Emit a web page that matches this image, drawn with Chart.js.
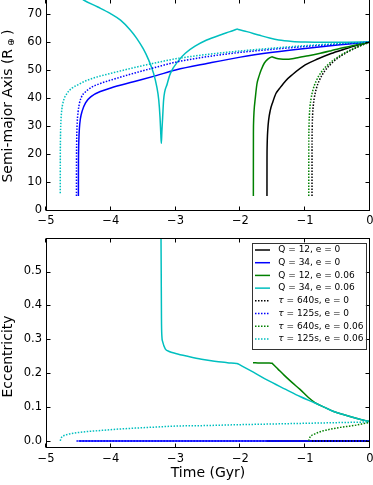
<!DOCTYPE html>
<html><head><meta charset="utf-8">
<script src="https://cdn.jsdelivr.net/npm/chart.js@4.4.0/dist/chart.umd.min.js"></script>
<style>
html,body{margin:0;padding:0;background:#fff;}
body{width:373px;height:485px;position:relative;overflow:hidden;}
canvas{position:absolute;left:0;display:block;}
#c1{top:0;}
#c2{top:235px;}
</style></head><body>
<canvas id="c1" width="373" height="235"></canvas>
<canvas id="c2" width="373" height="250"></canvas>
<script>
// ---------- tick values ----------
const xTicks = [-5, -4, -3, -2, -1, 0];
const aTicks = [0, 10, 20, 30, 40, 50, 60, 70];
const eTicks = [0, 0.1, 0.2, 0.3, 0.4, 0.5];

// ---------- legend labels ----------
const seriesLabels = ['Q = 12, e = 0', 'Q = 34, e = 0', 'Q = 12, e = 0.06', 'Q = 34, e = 0.06',
  'τ = 640s, e = 0', 'τ = 125s, e = 0', 'τ = 640s, e = 0.06', 'τ = 125s, e = 0.06'];

// ---------- semi-major axis (top panel) ----------
const tA_Q12e0 = [-1.59,-1.5895,-1.588,-1.585,-1.578,-1.565,-1.54,-1.5,-1.45,-1.4,-1.3,-1.2,-1.0,-0.8,-0.6,-0.4,-0.2,0];
const aA_Q12e0 = [5,17,22,25,28.5,32,35.5,38.6,41.7,43.3,46.2,48.3,51.8,54,55.9,57.4,58.8,60];

const tA_Q34e0 = [-4.5,-4.499,-4.497,-4.493,-4.485,-4.47,-4.44,-4.39,-4.3,-4.15,-4.0,-3.65,-3.3,-3.0,-2.5,-2.0,-1.5,-1.0,-0.5,0];
const aA_Q34e0 = [5,16,21,25,29,32.5,35.5,38.3,40.6,42.4,43.6,45.8,48,50,52.4,54.6,56.3,57.7,58.9,60];

const tA_Q12e06 = [-1.8,-1.7995,-1.799,-1.797,-1.79,-1.77,-1.745,-1.71,-1.68,-1.63,-1.57,-1.525,-1.51,-1.495,-1.45,-1.38,-1.3,-1.2,-1.1,-0.95,-0.8,-0.6,-0.48,-0.3,-0.15,0];
const aA_Q12e06 = [5,20,27,31,35,40,45,48,50,52.5,54,54.6,54.7,54.55,54.2,53.9,53.8,54,54.5,55.1,55.8,56.9,57.6,58.5,59.3,60];

const tA_Q34e06 = [-4.62,-4.42,-4.2,-4.01,-3.85,-3.7,-3.6,-3.5,-3.42,-3.34,-3.29,-3.26,-3.24,-3.228,-3.22,-3.212,-3.2,-3.185,-3.13,-3.08,-2.95,-2.85,-2.7,-2.52,-2.3,-2.16,-2.07,-2.05,-2.03,-1.9,-1.72,-1.55,-1.41,-1.2,-1.0,-0.7,-0.4,0];
const aA_Q34e06 = [78,75,72.5,70.2,67.8,64.3,61.3,57.6,53.8,48.8,44,39.3,33,27,23.8,28,33,39.3,45,48.8,53.5,56,58.5,60.7,62.6,63.7,64.45,64.6,64.45,63.7,62.5,61.4,60.7,60.2,60,59.9,59.9,60];

const tA_T640e0 = [-0.895,-0.8945,-0.893,-0.89,-0.885,-0.875,-0.86,-0.83,-0.78,-0.7,-0.6,-0.5,-0.4,-0.3,-0.2,-0.1,0];
const aA_T640e0 = [5,23.5,28,31.4,34.2,37.3,40,43.2,46.4,49.6,52.2,54.2,55.7,57,58.1,59.1,60];

const tA_T125e0 = [-4.53,-4.529,-4.527,-4.524,-4.518,-4.505,-4.485,-4.45,-4.4,-4.3,-4.16,-4.0,-3.65,-3.3,-3.0,-2.5,-2.0,-1.5,-1.0,-0.5,0];
const aA_T125e0 = [5,18,24,28,31.5,35,38,40.5,42,43.8,45.2,46.4,48.8,51,52.8,54.8,56.3,57.4,58.4,59.2,60];

const tA_T640e06 = [-0.945,-0.9445,-0.943,-0.94,-0.935,-0.925,-0.91,-0.88,-0.83,-0.75,-0.65,-0.55,-0.45,-0.35,-0.25,-0.15,-0.05,0];
const aA_T640e06 = [5,23.4,27.8,31.2,34,37.1,39.7,42.9,46.1,49.3,51.9,53.8,55.3,56.6,57.7,58.7,59.6,60];

const tA_T125e06 = [-4.78,-4.779,-4.777,-4.774,-4.768,-4.755,-4.73,-4.68,-4.6,-4.5,-4.4,-4.2,-4.0,-3.65,-3.3,-3.0,-2.5,-2.0,-1.5,-1.0,-0.5,0];
const aA_T125e06 = [6,19,25,29,32.5,36,39,41.5,43.5,44.8,46,47.6,48.8,50.8,52.6,54,55.6,56.8,57.8,58.7,59.4,60];

// ---------- eccentricity (bottom panel) ----------
const tE_Q12e0 = [-1.59, 0];
const eE_Q12e0 = [0, 0];
const tE_Q34e0 = [-4.5, 0];
const eE_Q34e0 = [0, 0];
const tE_Q12e06 = [-1.806,-1.7,-1.6,-1.525,-1.51,-1.495,-1.42,-1.33,-1.2,-1.08,-0.95,-0.85,-0.7,-0.56,-0.4,-0.2,0];
const eE_Q12e06 = [0.231,0.23,0.23,0.2293,0.229,0.226,0.212,0.195,0.172,0.152,0.128,0.113,0.099,0.087,0.077,0.066,0.057];
const tE_Q34e06 = [-3.23,-3.222,-3.218,-3.212,-3.2,-3.16,-3.1,-3.0,-2.8,-2.6,-2.4,-2.2,-2.06,-2.04,-2.02,-1.8,-1.59,-1.3,-1.08,-0.85,-0.7,-0.56,-0.4,-0.2,0];
const eE_Q34e06 = [0.75,0.5,0.36,0.31,0.293,0.272,0.264,0.258,0.249,0.241,0.235,0.231,0.2285,0.228,0.2258,0.203,0.18,0.152,0.131,0.112,0.099,0.087,0.077,0.066,0.057];
const tE_T640e0 = [-0.895, 0];
const eE_T640e0 = [0, 0];
const tE_T125e0 = [-4.53, 0];
const eE_T125e0 = [0, 0];
const tE_T640e06 = [-0.945,-0.94,-0.93,-0.91,-0.87,-0.8,-0.72,-0.6,-0.46,-0.3,-0.2,-0.1,0];
const eE_T640e06 = [0,0.005,0.01,0.015,0.019,0.025,0.03,0.035,0.04,0.044,0.047,0.051,0.055];
const tE_T125e06 = [-4.78,-4.77,-4.73,-4.65,-4.57,-4.4,-4.21,-3.95,-3.7,-3.3,-2.98,-2.62,-2.0,-1.5,-1.0,-0.5,0];
const eE_T125e06 = [0,0.007,0.015,0.02,0.023,0.027,0.03,0.034,0.037,0.041,0.044,0.045,0.048,0.05,0.052,0.054,0.056];

// ---------- styles ----------
const seriesColors = ['#000000','#0000ff','#008000','#00bfbf','#000000','#0000ff','#008000','#00bfbf'];
const FONT = "'DejaVu Sans', sans-serif";
Chart.defaults.font.family = FONT;
Chart.defaults.color = '#000';

const pts = (t, v) => t.map((x, i) => ({x: x, y: v[i]}));
function makeSets(pairs) {
  return pairs.map((p, i) => ({
    label: seriesLabels[i],
    data: pts(p[0], p[1]),
    borderColor: seriesColors[i],
    backgroundColor: seriesColors[i],
    borderWidth: 1.5,
    borderDash: i >= 4 ? [1.5, 1.5] : [],
    borderCapStyle: 'butt',
    pointRadius: 0,
    fill: false,
    cubicInterpolationMode: 'monotone',
    order: pairs.length - i
  }));
}
const fmtX = v => (v < 0 ? '\u2212' + Math.abs(v) : String(v));

const framePlugin = {
  id: 'frame',
  afterDatasetsDraw(chart) {
    const {ctx, chartArea: a, scales: {x, y}} = chart;
    const L = Math.floor(a.left) + 0.5;
    const R = Math.ceil(a.right) - 0.5;
    const B = Math.floor(a.bottom) + 0.5;
    const T = a.top < 1 ? -0.5 : Math.floor(a.top) + 0.5;
    ctx.save();
    ctx.strokeStyle = '#000';
    ctx.lineWidth = 1;
    ctx.strokeRect(L, T, R - L, B - T);
    ctx.beginPath();
    const K = 4;
    x.ticks.forEach(t => {
      const px = Math.round(x.getPixelForValue(t.value)) - 0.5;
      ctx.moveTo(px, B); ctx.lineTo(px, B - K);
      ctx.moveTo(px, T); ctx.lineTo(px, T + K);
    });
    y.ticks.forEach(t => {
      const py = Math.round(y.getPixelForValue(t.value)) + 0.5;
      ctx.moveTo(L, py); ctx.lineTo(L + K, py);
      ctx.moveTo(R, py); ctx.lineTo(R - K, py);
    });
    ctx.stroke();
    ctx.restore();
  }
};

function yTitlePlugin(parts, cx, cy) {
  return {
    id: 'ytitle',
    afterDraw(chart) {
      const ctx = chart.ctx;
      ctx.save();
      ctx.fillStyle = '#000';
      ctx.textBaseline = 'middle';
      ctx.textAlign = 'left';
      let total = 0;
      parts.forEach(p => { ctx.font = p.size + 'px ' + FONT; total += ctx.measureText(p.text).width; });
      ctx.translate(cx, cy);
      ctx.rotate(-Math.PI / 2);
      let xx = -total / 2;
      parts.forEach(p => {
        ctx.font = p.size + 'px ' + FONT;
        ctx.fillText(p.text, xx, p.dy || 0);
        xx += ctx.measureText(p.text).width;
      });
      ctx.restore();
    }
  };
}

const legendPlugin = {
  id: 'boxLegend',
  afterDraw(chart) {
    const {ctx, chartArea: a} = chart;
    const w = 114, h = 105.6;
    const x0 = a.right - 4.3 - w, y0 = a.top + 4.4;
    ctx.save();
    ctx.fillStyle = '#fff';
    ctx.fillRect(x0, y0, w, h);
    ctx.strokeStyle = '#333';
    ctx.lineWidth = 1;
    ctx.strokeRect(Math.round(x0) + 0.5, Math.round(y0) + 0.5, Math.round(w), Math.round(h));
    chart.data.datasets.forEach((ds, i) => {
      const yy = y0 + 7.3 + i * 12.71;
      ctx.beginPath();
      ctx.strokeStyle = ds.borderColor;
      ctx.lineWidth = ds.borderWidth;
      ctx.setLineDash(ds.borderDash || []);
      ctx.moveTo(x0 + 3.3, yy);
      ctx.lineTo(x0 + 18.3, yy);
      ctx.stroke();
      ctx.setLineDash([]);
      ctx.fillStyle = '#000';
      ctx.textBaseline = 'middle';
      ctx.textAlign = 'left';
      let tx = x0 + 26.6;
      let label = ds.label;
      if (label.charAt(0) === 'τ') {
        ctx.font = 'italic 9px ' + FONT;
        ctx.fillText('τ', tx, yy);
        tx += ctx.measureText('τ').width;
        label = label.slice(1);
      }
      ctx.font = '9px ' + FONT;
      ctx.fillText(label, tx, yy);
    });
    ctx.restore();
  }
};

function makeOptions(cfg) {
  return {
    responsive: false,
    animation: false,
    devicePixelRatio: 1,
    layout: {padding: {left: 0, right: 3, top: cfg.padTop, bottom: 0}},
    plugins: {legend: {display: false}, tooltip: {enabled: false}},
    scales: {
      x: {
        type: 'linear', min: -5, max: 0,
        grid: {display: false, drawTicks: false},
        border: {display: false},
        afterBuildTicks: s => { s.ticks = xTicks.map(v => ({value: v})); },
        afterFit: s => { s.height = cfg.xHeight; s.paddingLeft = 0; s.paddingRight = 0; },
        ticks: {padding: 4, color: '#000', font: {size: 11.5}, autoSkip: false, maxRotation: 0,
                callback: v => fmtX(v)},
        title: cfg.xTitle ? {display: true, text: 'Time (Gyr)', color: '#000', font: {size: 14},
                              padding: {top: 0, bottom: 3.6}} : {display: false}
      },
      y: {
        type: 'linear', min: cfg.yMin, max: cfg.yMax,
        grid: {display: false, drawTicks: false},
        border: {display: false},
        afterBuildTicks: s => { s.ticks = cfg.yTicks.map(v => ({value: v})); },
        afterFit: s => { s.width = 46; s.paddingTop = 0; s.paddingBottom = 0; },
        ticks: {padding: 4, color: '#000', font: {size: 11.5}, autoSkip: false,
                callback: cfg.yFmt}
      }
    }
  };
}

new Chart(document.getElementById('c1'), {
  type: 'line',
  data: {datasets: makeSets([
    [tA_Q12e0, aA_Q12e0], [tA_Q34e0, aA_Q34e0], [tA_Q12e06, aA_Q12e06], [tA_Q34e06, aA_Q34e06],
    [tA_T640e0, aA_T640e0], [tA_T125e0, aA_T125e0], [tA_T640e06, aA_T640e06], [tA_T125e06, aA_T125e06]
  ])},
  options: makeOptions({padTop: 0, xHeight: 25, xTitle: false, yMin: 0, yMax: 75, yTicks: aTicks,
                        yFmt: v => String(v)}),
  plugins: [framePlugin, yTitlePlugin([
    {text: 'Semi-major Axis (R', size: 14},
    {text: ' \u2295 ', size: 9.5, dy: 3},
    {text: ')', size: 14}
  ], 8.5, 106)]
});

new Chart(document.getElementById('c2'), {
  type: 'line',
  data: {datasets: makeSets([
    [tE_Q12e0, eE_Q12e0], [tE_Q34e0, eE_Q34e0], [tE_Q12e06, eE_Q12e06], [tE_Q34e06, eE_Q34e06],
    [tE_T640e0, eE_T640e0], [tE_T125e0, eE_T125e0], [tE_T640e06, eE_T640e06], [tE_T125e06, eE_T125e06]
  ])},
  options: makeOptions({padTop: 3.3, xHeight: 37.3, xTitle: true, yMin: -0.02, yMax: 0.598, yTicks: eTicks,
                        yFmt: v => Number(v).toFixed(1)}),
  plugins: [framePlugin, legendPlugin, yTitlePlugin([{text: 'Eccentricity', size: 14}], 8.5, 121.5)]
});
</script>
</body></html>
